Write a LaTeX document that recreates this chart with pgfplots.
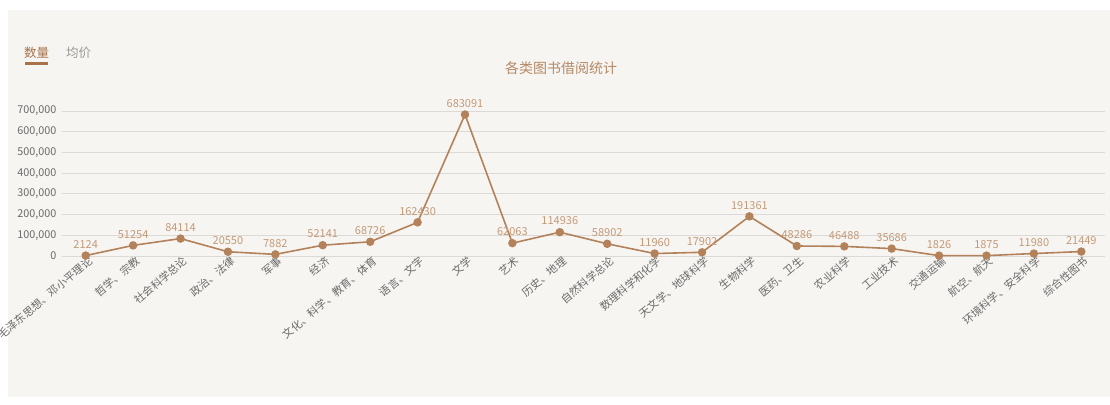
\documentclass[border=0pt]{standalone}
\usepackage{fontspec}
\usepackage{pgfplots}
\usepackage{pgfplotstable}
\pgfplotsset{compat=1.18}
\setmainfont{Noto Sans CJK SC}

\definecolor{bgc}{HTML}{F7F5F2}
\definecolor{linec}{HTML}{B3825A}
\definecolor{labelc}{HTML}{C49A78}
\definecolor{titlec}{HTML}{B58A66}
\definecolor{tickc}{HTML}{6A6A6A}
\definecolor{gridc}{HTML}{DCDAD6}
\definecolor{tabc}{HTML}{A8734A}

\pgfplotstableread{
x y
0 2124
1 51254
2 84114
3 20550
4 7882
5 52141
6 68726
7 162430
8 683091
9 62063
10 114936
11 58902
12 11960
13 17902
14 191361
15 48286
16 46488
17 35686
18 1826
19 1875
20 11980
21 21449
}\borrow

\begin{document}
\begin{tikzpicture}[x=1pt,y=1pt]
\useasboundingbox (0,0) rectangle (1110,-404);
\fill[white] (0,0) rectangle (1110,-404);
\fill[bgc] (8,-10) rectangle (1110,-397);

% tabs and title
\node[text=tabc, font=\fontsize{12.5}{14}\selectfont] at (36.5,-53) {数量};
\draw[tabc, line width=3pt] (25,-63.5) -- (48,-63.5);
\node[text=gray!80, font=\fontsize{12.5}{14}\selectfont] at (78.5,-53) {均价};
\node[text=titlec, font=\fontsize{14}{16}\selectfont] at (561,-68) {各类图书借阅统计};

\begin{axis}[
  at={(62pt,-256pt)}, anchor=south west,
  scale only axis, width=1043pt, height=145pt,
  xmin=-0.5, xmax=21.5, ymin=0, ymax=700000,
  ytick={0,100000,200000,300000,400000,500000,600000,700000},
  scaled y ticks=false,
  /pgf/number format/fixed,
  /pgf/number format/1000 sep={,},
  /pgf/number format/assume math mode=true,
  yticklabel style={font=\fontsize{10.8}{12}\selectfont, text=tickc, xshift=-2pt},
  ymajorgrids, grid style={gridc, line width=0.8pt},
  axis line style={draw=none}, tick style={draw=none},
  xtick={0,...,21},
  xticklabels={毛泽东思想、邓小平理论, 哲学、宗教, 社会科学总论, 政治、法律, 军事, 经济,
    文化、科学、教育、体育, 语言、文字, 文学, 艺术, 历史、地理, 自然科学总论,
    数理科学和化学, 天文学、地球科学, 生物科学, 医药、卫生, 农业科学, 工业技术,
    交通运输, 航空、航天, 环境科学、安全科学, 综合性图书},
  xticklabel style={rotate=40, anchor=east, font=\fontsize{10.8}{12}\selectfont, text=tickc, xshift=5pt, yshift=-6pt},
  clip=false,
]
\addplot[color=linec, line width=1.6pt, mark=*, mark size=3.4pt,
  nodes near coords, point meta=explicit symbolic,
  every node near coord/.style={text=labelc, font=\fontsize{11}{12}\selectfont, anchor=south, yshift=3pt}]
  table[x=x, y=y, meta=y] {\borrow};
\end{axis}
\end{tikzpicture}
\end{document}
